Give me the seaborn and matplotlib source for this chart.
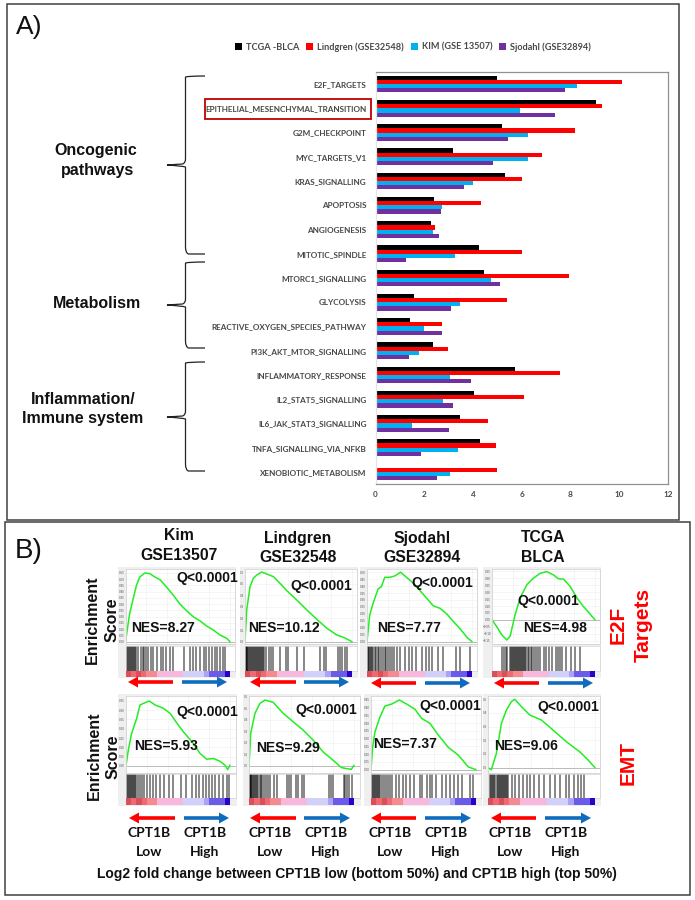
import numpy as np
import pandas as pd
import matplotlib
matplotlib.use("Agg")
import matplotlib.pyplot as plt
from matplotlib.colors import ListedColormap
from matplotlib.patches import Rectangle, PathPatch, FancyArrow
from matplotlib.path import Path
import seaborn as sns

sns.set_theme(style="white")
plt.rcParams["font.family"] = ["Liberation Sans", "DejaVu Sans"]

# ---------- panel A data ----------
PATHWAYS = ["E2F_TARGETS", "EPITHELIAL_MESENCHYMAL_TRANSITION", "G2M_CHECKPOINT", "MYC_TARGETS_V1",
            "KRAS_SIGNALLING", "APOPTOSIS", "ANGIOGENESIS", "MITOTIC_SPINDLE", "MTORC1_SIGNALLING",
            "GLYCOLYSIS", "REACTIVE_OXYGEN_SPECIES_PATHWAY", "PI3K_AKT_MTOR_SIGNALLING",
            "INFLAMMATORY_RESPONSE", "IL2_STAT5_SIGNALLING", "IL6_JAK_STAT3_SIGNALLING",
            "TNFA_SIGNALLING_VIA_NFKB", "XENOBIOTIC_METABOLISM"]
TCGA = [4.98, 9.06, 5.20, 3.18, 5.30, 2.40, 2.27, 4.24, 4.44, 1.58, 1.42, 2.35, 5.73, 4.05, 3.45, 4.27, 0.0]
LINDGREN = [10.12, 9.29, 8.18, 6.84, 6.00, 4.33, 2.45, 6.02, 7.95, 5.40, 2.71, 2.96, 7.58, 6.11, 4.60, 4.95, 5.00]
KIM = [8.27, 5.93, 6.25, 6.24, 4.00, 2.73, 2.36, 3.27, 4.75, 3.45, 1.98, 1.78, 3.04, 2.75, 1.51, 3.40, 3.04]
SJODAHL = [7.77, 7.37, 5.45, 4.84, 3.62, 2.69, 2.60, 1.25, 5.11, 3.11, 2.73, 1.36, 3.93, 3.16, 3.02, 1.87, 2.51]
SERIES = ["TCGA -BLCA", "Lindgren (GSE32548)", "KIM (GSE 13507)", "Sjodahl (GSE32894)"]
SERIES_COLORS = ["#000000", "#FF0000", "#00B0F0", "#7030A0"]

# ---------- panel B data ----------
RANK_E2F_KIM = [0, .04, .07, .105, .137, .185, .233, .281, .329, .393, .457, .521, .585, .649, .712, .776, .84, .904, .968, 1]
ES_E2F_KIM = [0, .226, .332, .452, .518, .55, .545, .518, .497, .438, .372, .301, .247, .199, .167, .125, .093, .053, .027, 0]
RANK_E2F_LIN = [0, .016, .047, .078, .109, .156, .203, .266, .328, .391, .484, .578, .672, .766, .859, .922, 1]
ES_E2F_LIN = [0, .273, .474, .545, .574, .6, .583, .56, .502, .439, .359, .273, .192, .115, .057, .037, 0]
RANK_E2F_SJO = [0, .026, .058, .105, .137, .169, .217, .265, .319, .377, .441, .505, .569, .633, .696, .76, .824, .888, .952, 1]
ES_E2F_SJO = [0, .192, .276, .379, .396, .463, .463, .473, .5, .463, .42, .367, .312, .257, .24, .199, .144, .091, .031, 0]
RANK_E2F_TCGA = [0, .048, .097, .145, .177, .226, .274, .339, .403, .468, .532, .597, .645, .694, .758, .823, .887, .952, 1]
ES_E2F_TCGA = [0, -.052, -.111, -.146, -.116, .042, .16, .255, .302, .337, .349, .325, .297, .295, .243, .16, .097, .042, 0]
RANK_EMT_KIM = [0, .022, .054, .103, .135, .183, .224, .279, .359, .423, .487, .551, .647, .712, .776, .84, .904, .952, .978, 1]
ES_EMT_KIM = [0, .085, .175, .256, .328, .34, .349, .328, .31, .283, .232, .184, .121, .067, .036, .04, .025, .004, -.02, .005]
RANK_EMT_LIN = [0, .016, .057, .104, .152, .231, .326, .421, .516, .611, .706, .801, .88, .927, .975, 1]
ES_EMT_LIN = [0, .28, .454, .54, .569, .549, .454, .381, .309, .223, .121, .049, -.014, -.023, -.029, .006]
RANK_EMT_SJO = [0, .016, .038, .086, .133, .197, .27, .34, .419, .483, .562, .641, .737, .832, .927, 1]
ES_EMT_SJO = [0, .147, .244, .341, .41, .423, .449, .423, .389, .33, .298, .223, .143, .093, .017, 0]
RANK_EMT_TCGA = [0, .031, .078, .125, .172, .219, .25, .313, .391, .5, .609, .734, .859, .938, 1]
ES_EMT_TCGA = [0, -.015, .103, .323, .421, .483, .5, .446, .385, .348, .274, .189, .115, .054, 0]

HITS_E2F_KIM = [0, .01, .02, .03, .04, .05, .06, .07, .08, .09, .105, .12, .145, .165, .18, .2, .22, .24, .265, .305, .34, .36, .39, .425, .455, .56, .62, .65, .675, .71, .75, .77, .8, .825, .855, .88, .905, .93, .955]
HITS_E2F_LIN = [0, .005, .01, .015, .02, .03, .04, .05, .055, .065, .075, .085, .09, .1, .11, .12, .13, .14, .145, .155, .17, .18, .2, .22, .24, .26, .33, .38, .4, .49, .55, .7, .74, .76, .87, .89, .91, .93, .95]
HITS_E2F_SJO = [0, .005, .01, .02, .03, .04, .05, .06, .075, .09, .1, .115, .13, .15, .17, .185, .2, .215, .235, .26, .29, .31, .36, .4, .43, .47, .52, .56, .59, .62, .68, .72, .85, .89, .98]
HITS_E2F_TCGA = [.1, .12, .14, .15, .17, .18, .19, .2, .21, .22, .23, .24, .25, .26, .27, .28, .29, .3, .31, .32, .33, .35, .36, .38, .39, .41, .43, .45, .47, .5, .52, .55, .58, .62, .64, .66, .68, .72, .77, .81, .85]
HITS_EMT_KIM = [0, .01, .02, .03, .04, .05, .06, .07, .08, .09, .1, .12, .13, .15, .17, .2, .23, .26, .29, .33, .37, .41, .45, .53, .58, .63, .67, .7, .74, .77, .8, .83, .86, .89, .93, .97, .99]
HITS_EMT_LIN = [0, .004, .008, .012, .016, .02, .03, .04, .05, .06, .07, .08, .09, .1, .11, .12, .14, .16, .18, .2, .24, .27, .36, .38, .4, .45, .47, .5, .52, .76, .78, .8, .9, .91, .93, .95, .98]
HITS_EMT_SJO = [0, .01, .02, .03, .04, .05, .06, .07, .08, .09, .1, .12, .14, .16, .18, .2, .24, .27, .3, .33, .37, .41, .47, .49, .53, .56, .58, .62, .68, .71, .75, .79, .83, .87, .94, .97]
HITS_EMT_TCGA = [.02, .03, .04, .05, .06, .07, .08, .09, .1, .11, .12, .13, .14, .15, .16, .17, .18, .19, .22, .25, .29, .33, .36, .39, .43, .48, .52, .58, .63, .67, .73, .76, .8, .84, .87, .9]

STRIP_LEVELS = [0, 1, 0, 1, 2, 2, 3, 3, 3, 3, 3, 4, 4, 4, 4, 5, 6, 6, 6, 7]
STRIP_COLORS = ["#D9505A", "#EE6A70", "#F58A90", "#F8B8DE", "#D0D0FA", "#A9A4F5", "#6A5CE8", "#2A00CC"]

NES_TEXT = ["NES=8.27", "NES=10.12", "NES=7.77", "NES=4.98", "NES=5.93", "NES=9.29", "NES=7.37", "NES=9.06"]
Q_TEXT = "Q<0.0001"

# ---------- layout helpers (pixels) ----------
W, H = 695, 900
fig = plt.figure(figsize=(W / 100, H / 100), dpi=100, facecolor="white")


def px_axes(l, t, r, b, **kw):
    return fig.add_axes([l / W, 1 - b / H, (r - l) / W, (b - t) / H], **kw)


back = px_axes(0, 0, W, H, zorder=0)
back.set_xlim(0, W); back.set_ylim(H, 0); back.axis("off")
top = px_axes(0, 0, W, H, zorder=20)
top.set_xlim(0, W); top.set_ylim(H, 0); top.axis("off"); top.patch.set_alpha(0)

# outer boxes
for (x0, y0, x1, y1) in [(7, 4, 679, 520), (5, 522, 690, 895)]:
    back.add_patch(Rectangle((x0, y0), x1 - x0, y1 - y0, fc="white", ec="#404040", lw=1.1))

# ---------- panel A ----------
df = pd.DataFrame({"pathway": PATHWAYS * 4,
                   "nes": TCGA + LINDGREN + KIM + SJODAHL,
                   "series": [s for s in SERIES for _ in PATHWAYS]})
axA = px_axes(375.5, 72, 668, 484, zorder=5)
sns.barplot(data=df, y="pathway", x="nes", hue="series", hue_order=SERIES, palette=SERIES_COLORS,
            order=PATHWAYS, orient="h", width=0.69, gap=0, saturation=1, ax=axA, errorbar=None, linewidth=0)
axA.set_xlim(0, 12)
axA.set_ylim(16.5, -0.5)
axA.set_xlabel(""); axA.set_ylabel("")
axA.set_xticks(range(0, 13, 2))
axA.tick_params(axis="both", length=0)
axA.tick_params(axis="y", pad=6.5)
axA.tick_params(axis="x", pad=5)
for lab in axA.get_yticklabels():
    lab.set(family="Lato", weight="bold", fontsize=5.9, color="#484848")
for lab in axA.get_xticklabels():
    lab.set(family="Lato", weight="bold", fontsize=5.9, color="#484848")
for side, col in {"top": "#909090", "right": "#909090", "bottom": "#909090", "left": "#E4E4E4"}.items():
    axA.spines[side].set_color(col)
    axA.spines[side].set_linewidth(0.9)
handles, labels = axA.get_legend_handles_labels()
axA.legend_.remove()
leg = fig.legend(handles, labels, ncol=4, loc="center", bbox_to_anchor=(413 / W, 1 - 47 / H),
                 frameon=False, handlelength=0.75, handleheight=0.75, columnspacing=0.8,
                 handletextpad=0.4, prop={"family": "Lato", "weight": "bold", "size": 6.6})
for t in leg.get_texts():
    t.set_color("#484848")

top.add_patch(Rectangle((205, 99), 166, 20, fc="none", ec="#C00000", lw=1.3))
top.text(16, 27, "A)", fontsize=19, ha="left", va="center", color="#111111")
top.text(15, 551, "B)", fontsize=20, ha="left", va="center", color="#111111")


def brace(x_tip, x_mid, x_end, y0, y_tip, y1):
    r = 4
    verts = [(x_end, y0), (x_mid + 3, y0), (x_mid, y0 + 1), (x_mid, y0 + r + 3),
             (x_mid, y_tip - r - 2), (x_mid, y_tip - 2), (x_mid - 3, y_tip - 1), (x_tip, y_tip),
             (x_mid - 3, y_tip + 1), (x_mid, y_tip + 2), (x_mid, y_tip + r + 2),
             (x_mid, y1 - r - 3), (x_mid, y1 - 1), (x_mid + 3, y1), (x_end, y1)]
    codes = [Path.MOVETO, Path.CURVE3, Path.CURVE3, Path.LINETO, Path.LINETO, Path.CURVE3, Path.CURVE3, Path.LINETO,
             Path.CURVE3, Path.CURVE3, Path.LINETO, Path.LINETO, Path.CURVE3, Path.CURVE3, Path.LINETO]
    top.add_patch(PathPatch(Path(verts, codes), fc="none", ec="#222222", lw=0.9))


brace(167, 185.5, 205, 76, 165, 254)
brace(167, 185.5, 205, 262, 305, 348)
brace(167, 185.5, 205, 362, 417, 471)
GROUP_FONT = dict(fontsize=11.5, weight="bold", ha="center", va="center", color="#111111")
top.text(96, 151, "Oncogenic", **GROUP_FONT)
top.text(98, 170, "pathways", **GROUP_FONT)
top.text(97, 303, "Metabolism", **GROUP_FONT)
top.text(83, 399, "Inflammation/", **GROUP_FONT)
top.text(83, 418, "Immune system", **GROUP_FONT)

# ---------- panel B ----------
RANKS = [RANK_E2F_KIM, RANK_E2F_LIN, RANK_E2F_SJO, RANK_E2F_TCGA, RANK_EMT_KIM, RANK_EMT_LIN, RANK_EMT_SJO, RANK_EMT_TCGA]
SCORES = [ES_E2F_KIM, ES_E2F_LIN, ES_E2F_SJO, ES_E2F_TCGA, ES_EMT_KIM, ES_EMT_LIN, ES_EMT_SJO, ES_EMT_TCGA]
HITS = [HITS_E2F_KIM, HITS_E2F_LIN, HITS_E2F_SJO, HITS_E2F_TCGA, HITS_EMT_KIM, HITS_EMT_LIN, HITS_EMT_SJO, HITS_EMT_TCGA]
# bg_left, plot_left, curve_right, plot_right
GEOM_X = [(118, 125.5, 230, 235), (240, 245, 352, 357), (360, 367, 472, 477), (483, 492, 595, 600),
          (118, 126, 230, 236), (243, 249, 354, 360), (364, 371, 476, 481), (483, 488, 595, 600)]
# bg_top, plot_top, plot_bottom, bar_top, strip_top, bg_bottom
GEOM_Y = [(567, 569, 644, 646, 671, 678)] * 4 + [(694, 696, 773, 774, 798, 806)] * 4
YLIMS = [(-.019, .582), (-.02, .626), (-.017, .523), (-.175, .368),
         (-.038, .376), (-.061, .604), (-.022, .475), (-.039, .524)]
YSTEPS = [.05, .1, .05, .05, .05, .1, .05, .1]
NES_POS = [(163, 628), (284, 628), (409, 628), (555, 628), (166, 746), (288, 748), (405, 744), (526, 746)]
Q_POS = [(207, 578), (321, 586), (442, 583), (548, 601), (207, 712), (326, 710), (450, 706), (568, 707)]

for i in range(8):
    bgl, pl, cr, pr = GEOM_X[i]
    bgt, pt, pb, bart, st, bgb = GEOM_Y[i]
    back.add_patch(Rectangle((bgl, bgt), pr + 1 - bgl, bgb - bgt, fc="#EFEFEF", ec="none"))
    # enrichment curve
    ax = px_axes(pl, pt, pr, pb, zorder=6)
    lo, hi = YLIMS[i]
    xmax = (pr - pl) / (cr - pl)
    ax.set_xlim(0, xmax); ax.set_ylim(lo, hi)
    ax.set_xticks(np.arange(0, 1.01, .2))
    ax.set_yticks(np.arange(-.15 if lo < -.1 else 0, hi, YSTEPS[i]))
    ax.grid(True, color="#F2F2F2", lw=0.5)
    ax.set_axisbelow(True)
    ax.axhline(0, color="#BBBBBB", lw=0.7)
    sns.lineplot(x=RANKS[i], y=SCORES[i], color="#22EE22", lw=1.1, ax=ax, estimator=None, sort=False, errorbar=None)
    ax.set_xticklabels([])
    ax.tick_params(axis="y", labelsize=2.2, labelcolor="#555555", length=0, pad=0.8)
    ax.tick_params(axis="x", length=0)
    for s in ax.spines.values():
        s.set_color("#D4D4D4"); s.set_linewidth(0.6)
    # hit barcode
    axb = px_axes(pl, bart, pr, st, zorder=6)
    axb.vlines(HITS[i], 0, 1, color="#000000", lw=1.2, alpha=0.55)
    axb.set_xlim(0, xmax); axb.set_ylim(0, 1)
    axb.set_xticks([]); axb.set_yticks([])
    for s in axb.spines.values():
        s.set_color("#D4D4D4"); s.set_linewidth(0.5)
    # ranked-metric colour strip
    axs = px_axes(pl, st, cr, bgb - 1, zorder=7)
    sns.heatmap([STRIP_LEVELS], ax=axs, cbar=False, cmap=ListedColormap(STRIP_COLORS), vmin=-.5, vmax=7.5,
                xticklabels=False, yticklabels=False)
    top.text(*NES_POS[i], NES_TEXT[i], fontsize=10, weight="bold", ha="center", va="center", color="#111111")
    top.text(*Q_POS[i], Q_TEXT, fontsize=10, weight="bold", ha="center", va="center", color="#111111")

# column titles
TITLE_X = [179, 298, 422, 543]
TITLE_Y = [(536, 555), (538, 557), (538, 557), (538, 557)]
TITLES = [("Kim", "GSE13507"), ("Lindgren", "GSE32548"), ("Sjodahl", "GSE32894"), ("TCGA", "BLCA")]
for x, (y0, y1), (a, b) in zip(TITLE_X, TITLE_Y, TITLES):
    top.text(x, y0, a, fontsize=11.3, weight="bold", ha="center", va="center", color="#111111")
    top.text(x, y1, b, fontsize=11.3, weight="bold", ha="center", va="center", color="#111111")

# row labels
for x, y, s in [(92, 620, "Enrichment"), (112, 620, "Score"), (94, 756, "Enrichment"), (113, 757, "Score")]:
    top.text(x, y, s, rotation=90, fontsize=11.5, weight="bold", ha="center", va="center", color="#111111")
for x, y, s in [(618, 625, "E2F"), (643, 625, "Targets"), (628, 763, "EMT")]:
    top.text(x, y, s, rotation=90, fontsize=15, weight="bold", ha="center", va="center", color="#FF0000")

# direction arrows
ARROWS = [(173, 128, 182, 227, 682), (296, 250, 304, 349, 682), (416, 371, 425, 470, 683), (539, 494, 548, 593, 683),
          (175, 129, 184, 229, 818), (296, 250, 304, 350, 818), (416, 371, 425, 471, 818), (536, 491, 545, 591, 818)]
for rs, re, bs, be, y in ARROWS:
    top.add_patch(FancyArrow(rs, y, re - rs, 0, width=3.6, head_width=11, head_length=10,
                             length_includes_head=True, color="#FF0000", lw=0))
    top.add_patch(FancyArrow(bs, y, be - bs, 0, width=3.6, head_width=11, head_length=10,
                             length_includes_head=True, color="#0F6CBD", lw=0))

# CPT1B labels
for lx, hx in [(149, 205), (270, 326), (390, 446), (510, 566)]:
    for x, word in [(lx, "Low"), (hx, "High")]:
        top.text(x, 833, "CPT1B", family="Lato", weight="bold", fontsize=10, ha="center", va="center", color="#111111")
        top.text(x, 852, word, family="Lato", weight="bold", fontsize=10, ha="center", va="center", color="#111111")
top.text(357, 874, "Log2 fold change between CPT1B low (bottom 50%) and CPT1B high (top 50%)",
         fontsize=10, weight="bold", ha="center", va="center", color="#111111")

fig.savefig("out.png", dpi=100)
